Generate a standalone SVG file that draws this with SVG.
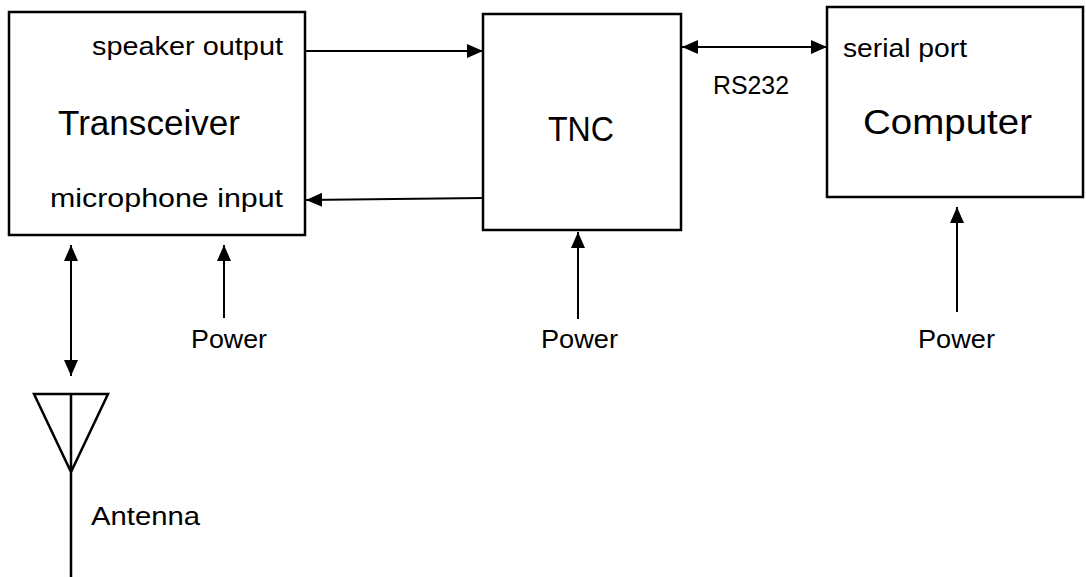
<svg xmlns="http://www.w3.org/2000/svg" width="1086" height="577" viewBox="0 0 1086 577">
<style>
.box{fill:#fff;stroke:#000;stroke-width:2.5}
.ln{fill:none;stroke:#000;stroke-width:2}
.ant{fill:none;stroke:#000;stroke-width:2.5;stroke-linejoin:miter}
text{font-family:"Liberation Sans",Arial,sans-serif;fill:#000}
.s{font-size:25px}
.l{font-size:35px}
</style>
<defs>
<marker id="ah" markerUnits="userSpaceOnUse" markerWidth="16" markerHeight="14" refX="16" refY="7" orient="auto-start-reverse">
<path d="M0,0 L16,7 L0,14 z" fill="#000"/>
</marker>
</defs>
<rect width="1086" height="577" fill="#fff"/>
<g id="transceiver">
<rect class="box" x="9" y="12" width="296" height="223"/>
<text class="s" x="92" y="55" textLength="191" lengthAdjust="spacingAndGlyphs">speaker output</text>
<text class="l" x="58" y="135" textLength="182" lengthAdjust="spacingAndGlyphs">Transceiver</text>
<text class="s" x="50" y="207" textLength="233" lengthAdjust="spacingAndGlyphs">microphone input</text>
</g>
<g id="tnc">
<rect class="box" x="483" y="14" width="198" height="216"/>
<text class="l" x="548" y="141" textLength="66" lengthAdjust="spacingAndGlyphs">TNC</text>
</g>
<g id="computer">
<rect class="box" x="827" y="7" width="256" height="190"/>
<text class="s" x="843" y="57" textLength="124" lengthAdjust="spacingAndGlyphs">serial port</text>
<text class="l" x="863" y="134" textLength="169" lengthAdjust="spacingAndGlyphs">Computer</text>
</g>
<g id="antenna">
<path class="ant" d="M34,394 L108,394 L71,472 Z M71,394 L71,577"/>
<text class="s" x="91" y="525" textLength="109" lengthAdjust="spacingAndGlyphs">Antenna</text>
</g>
<g id="labels">
<text class="s" x="713" y="94" textLength="76" lengthAdjust="spacingAndGlyphs">RS232</text>
<text class="s" x="191" y="348" textLength="76" lengthAdjust="spacingAndGlyphs">Power</text>
<text class="s" x="541" y="348" textLength="77" lengthAdjust="spacingAndGlyphs">Power</text>
<text class="s" x="918" y="348" textLength="77" lengthAdjust="spacingAndGlyphs">Power</text>
</g>
<g id="connectors">
<line class="ln" x1="305" y1="51" x2="483" y2="51" marker-end="url(#ah)"/>
<line class="ln" x1="483" y1="198" x2="306" y2="200" marker-end="url(#ah)"/>
<line class="ln" x1="682" y1="47" x2="827" y2="47" marker-start="url(#ah)" marker-end="url(#ah)"/>
<line class="ln" x1="71" y1="245" x2="71" y2="376" marker-start="url(#ah)" marker-end="url(#ah)"/>
<line class="ln" x1="224" y1="318" x2="224" y2="245" marker-end="url(#ah)"/>
<line class="ln" x1="578" y1="319" x2="578" y2="232" marker-end="url(#ah)"/>
<line class="ln" x1="957" y1="312" x2="957" y2="207" marker-end="url(#ah)"/>
</g>
</svg>
